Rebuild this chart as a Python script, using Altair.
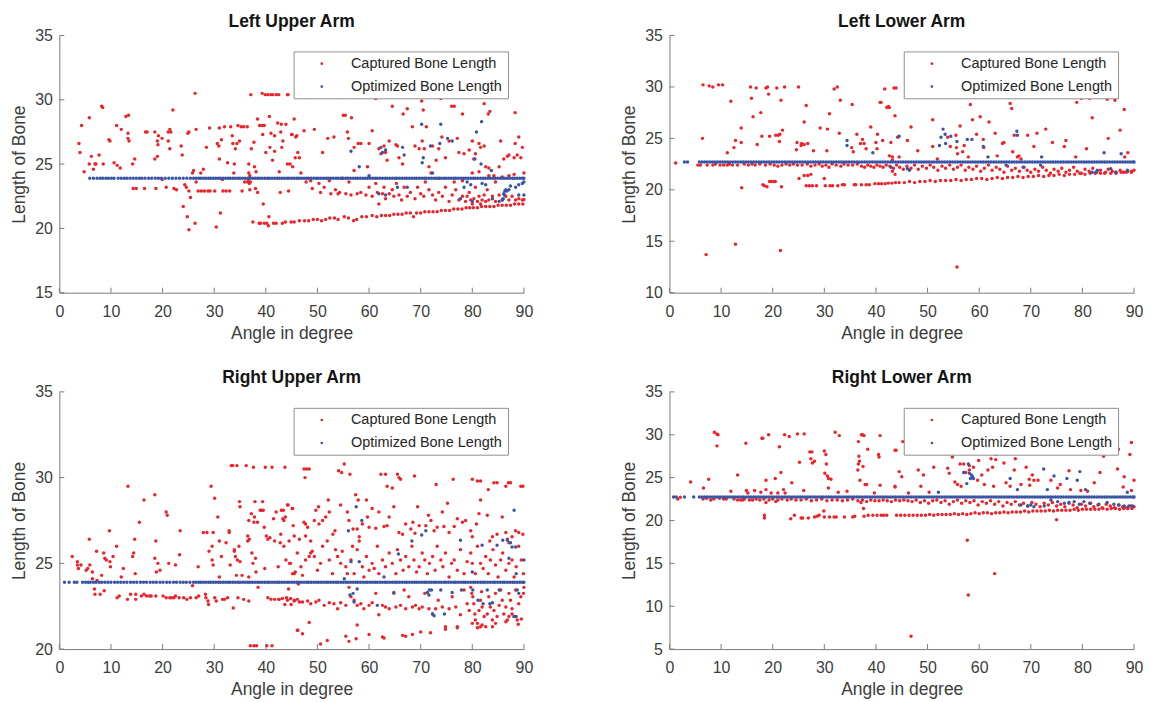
import altair as alt
import pandas as pd

RED = "#ee2229"
BLUE = "#3a55a5"
AXIS_COLOR = "#7a7a7a"
TEXT_COLOR = "#3c3c3c"
FONT = "Liberation Sans"
SERIES = ["Captured Bone Length", "Optimized Bone Length"]
X_TICKS = [0, 10, 20, 30, 40, 50, 60, 70, 80, 90]
W, H = 466, 258

# ---------------- Left Upper Arm ----------------
LUA_RED = [
    (3.8,26.6),(4.0,25.9),(4.3,28.0),(4.8,24.4),(5.8,28.6),(5.8,25.0),(6.2,25.6),(6.6,24.6),(6.9,25.0),(7.1,25.0),
    (7.7,25.7),(8.2,29.5),(8.4,29.4),(8.5,25.0),(9.6,26.9),(9.8,26.8),(10.6,25.1),(11.1,28.0),(11.2,24.9),(11.8,24.7),
    (12.0,27.7),(12.9,28.7),(13.4,28.8),(13.3,27.0),(13.5,26.8),(13.3,27.4),(14.3,23.1),(14.9,23.1),(14.2,25.0),(14.6,25.4),
    (16.5,23.1),(16.7,27.5),(17.0,27.5),(18.7,23.1),(18.5,27.5),(18.5,25.4),(19.0,25.6),(19.0,26.8),(19.1,26.5),(19.2,27.2),
    (19.9,27.0),(19.9,23.8),(20.7,23.2),(21.1,27.5),(21.4,27.7),(21.6,27.5),(21.4,26.2),(21.1,26.8),(22.0,29.2),(22.2,23.1),
    (22.7,23.0),(23.6,26.4),(23.8,25.7),(24.0,21.7),(24.3,23.4),(24.6,23.2),(24.8,20.9),(25.1,19.9),(24.9,27.4),(25.1,27.5),
    (25.4,22.4),(25.1,22.9),(25.8,24.3),(26.0,24.5),(26.3,30.5),(26.3,20.4),(26.5,27.7),(26.5,23.6),(26.9,22.9),(27.5,22.9),
    (27.4,24.3),(27.9,24.6),(28.1,22.9),(28.5,26.3),(28.8,22.9),(29.1,27.8),(29.2,22.9),(30.1,22.9),(30.4,20.1),(30.6,26.6),
    (30.9,26.4),(31.0,25.4),(31.2,21.2),(31.0,27.8),(31.4,26.9),(31.6,23.8),(31.7,22.9),(32.0,27.9),(32.3,22.9),(32.6,25.1),
    (33.0,22.9),(33.2,27.9),(33.5,27.2),(33.6,26.6),(33.8,24.3),(33.9,25.0),(34.1,26.2),(34.4,26.6),(34.6,28.0),(34.9,26.8),
    (35.2,27.9),(35.4,22.9),(35.7,27.9),(35.9,23.6),(36.4,27.9),(36.7,24.3),(36.5,23.6),(36.7,25.0),(36.8,23.5),(36.9,23.0),
    (36.6,23.8),(37.0,23.6),(36.9,24.1),(37.1,30.4),(37.2,26.2),(37.5,20.5),(37.7,26.7),(37.8,24.8),(38.0,23.1),(38.1,24.4),
    (38.4,28.5),(38.4,22.8),(38.7,20.4),(38.8,28.0),(39.0,20.4),(39.3,28.0),(39.3,30.5),(39.4,27.3),(39.5,21.9),(39.7,28.0),
    (39.7,20.4),(39.9,30.4),(40.0,25.9),(40.2,20.4),(40.4,30.4),(40.5,20.2),(40.7,28.7),(40.6,20.9),(40.8,26.3),(41.0,27.4),
    (41.0,30.4),(41.3,30.4),(41.3,25.3),(41.5,20.4),(41.7,27.2),(41.7,26.0),(42.0,20.4),(42.0,30.4),(42.3,28.2),(42.5,30.4),
    (42.6,24.4),(42.8,22.8),(43.0,28.1),(43.1,26.3),(43.2,20.4),(43.3,26.8),(43.8,20.5),(44.3,30.4),(44.4,22.9),(44.7,25.0),
    (44.9,20.5),(45.1,27.3),(45.2,24.8),(45.5,28.5),(45.5,20.5),(45.7,25.5),(46.0,27.2),(46.2,25.9),
    (44.2,30.4),(48.4,30.2),(54.5,30.2),(58.0,30.2),(58.3,30.2),(61.3,30.1),(64.5,29.5),(66.6,28.9),(67.4,29.3),(70.2,29.9),
    (70.5,29.2),(73.9,30.1),(76.0,29.5),(76.5,29.5),(78.1,28.9),(82.3,29.7),(83.1,28.9),(83.4,29.1),(88.3,29.0),(43.9,28.1),
    (42.9,27.5),(45.0,27.3),(45.8,27.1),(47.4,27.6),(49.4,27.7),(51.0,25.9),(52.0,27.0),(53.2,27.1),(55.0,28.8),(55.4,28.8),
    (55.8,27.5),(56.0,27.0),(56.6,28.6),(57.1,26.3),(57.9,26.6),(58.4,26.6),(60.0,26.6),(60.6,27.6),(61.9,26.2),(62.3,25.8),
    (62.9,26.4),(63.2,25.9),(63.5,25.3),(63.9,26.8),(65.2,26.5),(65.5,26.4),(65.8,25.5),(66.5,25.0),(68.4,27.9),(68.9,26.4),
    (69.7,26.2),(70.3,26.8),(70.7,26.2),(71.1,27.9),(71.6,24.8),(72.0,24.3),(72.3,26.4),(73.0,25.3),(73.5,26.2),(74.1,27.1),
    (74.8,25.5),(75.5,26.8),(77.1,27.0),(77.4,25.9),(78.4,25.8),(79.4,26.1),(80.0,26.8),(80.3,25.4),(80.6,25.8),(81.3,26.6),
    (81.6,26.3),(82.3,26.4),(82.6,24.8),(83.2,24.7),(84.2,24.1),(85.2,24.8),(85.5,26.8),(86.1,25.4),(86.8,25.6),(87.1,25.7),
    (88.1,25.5),(88.3,26.6),(88.7,25.7),(89.0,27.1),(89.4,25.5),(89.7,26.3),(44.2,25.0),(46.5,25.5),(46.8,24.3),(47.8,23.6),
    (48.7,23.7),(49.0,23.1),(50.3,23.5),(50.6,22.8),(51.3,23.2),(52.3,23.7),(52.6,22.7),(53.5,23.0),(54.0,22.7),(54.3,22.8),
    (54.8,23.9),(55.5,22.7),(56.1,23.6),(56.5,22.6),(57.1,24.5),(57.7,22.7),(58.4,22.8),(59.4,22.6),(59.7,24.8),(60.0,23.2),
    (60.6,22.5),(61.3,23.5),(61.6,22.8),(61.9,21.9),(62.6,22.7),(62.9,23.2),(63.2,22.3),(63.9,22.7),(64.5,23.0),(64.8,22.5),
    (65.3,23.5),(65.8,22.6),(66.3,22.2),(66.8,23.2),(67.4,22.5),(68.0,22.8),(68.9,22.3),(69.4,23.2),(70.0,22.7),(70.6,22.5),
    (71.6,23.0),(72.3,22.6),(72.9,22.2),(73.5,22.8),(74.2,22.5),(74.8,23.2),(75.5,22.1),(76.1,22.6),(76.8,23.0),(77.4,22.2),
    (78.1,22.5),(78.7,22.1),(79.0,22.5),(79.4,22.8),(79.7,22.2),(80.0,21.9),(80.3,22.3),(80.6,23.2),(81.0,22.1),(81.3,22.5),
    (81.6,21.9),(81.9,22.2),(82.3,22.6),(82.6,22.1),(82.9,23.0),(83.2,22.2),(83.9,22.5),(84.5,22.1),(85.2,22.6),(85.8,22.2),
    (86.5,22.5),(87.1,22.2),(87.7,22.5),(88.4,22.2),(89.0,22.3),(89.7,22.2),(90.0,22.25),(87.1,24.1),(88.1,24.2),(90.0,24.3),
    (85.8,24.0),(84.5,23.6),(80.0,24.3),(81.3,24.4),(83.2,24.1),(78.1,23.7),(76.5,23.6),(73.5,23.9),(70.9,23.6),
    (46.5,20.6),(47.5,20.6),(48.3,20.6),(49.2,20.7),(50.0,20.7),(50.8,20.6),(51.6,20.7),(52.4,20.8),(53.3,20.8),(54.0,20.7),
    (55.2,20.9),(56.0,20.8),(57.0,20.6),(57.6,20.7),(58.6,20.9),(59.5,20.9),(60.6,21.0),(61.5,20.9),(62.4,21.0),(63.2,21.0),
    (64.0,21.0),(64.8,21.1),(65.6,21.1),(66.4,21.1),(67.2,21.2),(68.0,21.2),(68.6,20.9),(69.2,21.2),(70.0,21.2),(70.8,21.3),
    (71.6,21.3),(72.4,21.3),(73.2,21.3),(74.0,21.4),(74.8,21.4),(75.6,21.4),(76.4,21.5),(77.2,21.5),(78.0,21.5),(78.8,21.6),
    (79.5,21.6),(80.2,21.6),(81.0,21.6),(81.8,21.7),(82.6,21.7),(83.4,21.7),(84.2,21.7),(85.0,21.8),(85.8,21.8),(86.6,21.8),
    (87.4,21.8),(88.2,21.9),(89.0,21.9),(89.8,21.9),
]
LUA_BLUE = [
    (56.5,26.0),(58.1,24.8),(60.0,24.1),(62.3,26.3),(62.6,25.9),(63.2,26.1),(61.9,22.7),(63.2,22.6),(65.5,23.2),(66.5,26.3),
    (66.8,25.7),(67.4,23.2),(70.2,28.1),(70.5,25.5),(70.3,25.1),(71.9,26.4),(72.3,24.3),(73.9,28.1),(73.7,26.6),(75.2,27.0),
    (76.1,26.8),(78.4,23.2),(77.7,22.3),(79.0,23.6),(79.7,23.4),(80.8,27.5),(80.5,25.4),(81.8,28.3),(81.7,25.0),(80.0,22.1),
    (81.9,23.5),(82.6,23.4),(83.7,24.5),(83.9,22.3),(85.2,22.1),(85.8,22.2),(86.0,22.3),(86.1,22.7),(86.2,22.6),(86.3,22.9),
    (86.5,23.0),(86.7,22.9),(87.1,23.0),(87.4,23.3),(88.4,23.2),(89.0,23.4),(89.7,23.5),(90.0,23.6),(89.0,22.6),(90.0,22.6),
]
LUA_BAND_DOTS = [5.9,6.6,7.3,7.9,8.4,9.0,9.5,10.1,10.6,11.4,12.0,12.6,13.1,13.7,14.3,14.9,15.5,16.0,16.6,17.3,
                 17.9,18.6,19.2,19.8,20.5,21.2,21.9,22.6,23.3,24.0,24.7,25.4]
LUA_BAND_Y = 23.9

# ---------------- Right Upper Arm ----------------
RUA_RED = [
    (2.5,25.4),(3.5,25.1),(3.5,24.9),(3.7,24.7),(4.2,24.9),(5.2,24.6),(5.5,24.7),(5.8,26.4),(5.9,24.9),(6.4,24.5),
    (6.4,24.1),(6.8,23.5),(6.9,23.2),(7.2,25.7),(7.3,24.0),(7.9,23.2),(8.2,24.3),(8.6,25.6),(8.7,23.4),(8.8,25.3),
    (9.1,25.2),(9.7,26.9),(9.8,25.1),(9.9,24.8),(10.4,25.4),(11.1,26.0),(11.2,23.0),(11.6,23.1),(12.0,24.2),(12.4,24.7),
    (13.3,29.5),(13.2,22.9),(13.8,23.2),(14.2,25.4),(14.4,25.6),(14.6,26.4),(14.7,24.4),(14.8,23.2),(14.8,22.9),(15.5,27.4),
    (15.9,23.1),(16.4,28.7),(16.4,23.2),(16.9,23.1),(17.5,23.1),(17.8,23.1),(18.5,29.0),(18.7,26.3),(18.5,25.3),(18.8,24.5),
    (19.1,25.0),(19.5,24.6),(18.7,23.1),(20.1,23.1),(20.7,28.0),(20.9,27.8),(20.7,23.0),(21.2,25.0),(21.4,23.0),(21.7,23.0),
    (22.2,23.0),(22.5,23.1),(22.5,24.9),(23.2,23.0),(23.4,26.9),(23.3,25.5),(24.1,23.0),(24.7,22.9),(25.4,23.0),(25.8,23.7),
    (26.5,23.0),(26.9,24.8),(27.0,23.1),(27.9,26.8),(28.3,23.2),(28.4,23.0),(28.6,26.8),(28.8,22.8),(28.9,22.6),(29.0,25.7),
    (29.4,29.5),(29.6,26.0),(29.6,25.2),(29.8,26.8),(29.8,24.9),(30.1,28.8),(30.1,23.0),(30.4,22.8),(30.7,27.7),(31.0,26.3),
    (31.0,24.2),(31.4,25.4),(31.6,22.9),(32.0,22.9),(32.3,26.2),(32.6,23.0),(32.9,26.8),(32.9,26.9),(33.1,24.9),(33.3,30.7),
    (33.6,30.7),(33.7,22.4),(33.9,25.7),(33.9,25.8),(34.1,25.4),(34.3,24.3),(34.4,30.7),(34.5,25.2),(34.6,23.0),(34.8,26.0),
    (34.9,28.6),(35.0,28.3),(35.0,25.1),(35.4,24.3),(35.7,22.9),(36.2,30.7),(36.5,26.6),(36.5,26.3),(36.7,27.5),(36.7,24.2),
    (36.7,22.8),(36.8,26.4),(37.0,20.2),(37.2,27.9),(37.3,25.6),(37.5,25.0),(37.6,30.6),(37.7,20.2),(37.7,27.4),(37.8,27.7),
    (37.9,28.6),(38.0,25.3),(38.1,24.5),(38.2,20.2),(38.4,27.4),(38.5,23.6),(38.9,28.1),(39.2,28.1),(39.4,28.6),(39.5,28.1),
    (39.7,27.1),(39.8,24.7),(40.1,26.6),(39.9,30.6),(40.2,20.2),(40.4,26.4),(40.4,23.0),(40.8,26.5),(41.0,22.9),(41.2,30.6),
    (41.2,20.2),(41.5,27.6),(41.7,22.9),(41.7,26.3),(42.0,28.0),(42.4,24.8),(42.5,22.9),(42.8,26.2),(42.9,26.7),(43.0,28.1),
    (43.3,27.6),(43.4,28.1),(43.7,30.6),(43.7,22.6),(43.8,27.7),(44.0,23.0),(44.3,28.4),(44.4,23.5),(44.6,25.0),(44.9,22.6),
    (45.1,28.2),(45.2,24.4),(45.3,27.2),(45.5,22.8),(45.7,24.5),(46.2,21.1),(46.3,23.8),
    (47.4,30.5),(47.6,30.0),(47.9,30.5),(48.4,30.5),(54.1,30.4),(54.7,30.3),(55.2,30.8),(56.3,30.2),(62.3,30.2),(63.2,30.2),
    (63.5,29.5),(64.5,29.4),(65.5,30.2),(65.8,30.0),(66.1,29.9),(68.8,30.1),(73.0,29.6),(76.3,29.9),(80.0,29.9),(81.0,29.8),
    (81.6,29.8),(83.1,29.3),(84.2,29.7),(84.8,29.7),(86.5,29.5),(87.0,29.7),(87.4,29.7),(89.4,29.5),(89.8,29.5),
    (44.2,28.4),(45.2,28.2),(43.5,27.5),(44.5,26.3),(45.5,26.6),(46.5,26.4),(47.4,27.4),(47.7,27.3),(48.1,27.1),(47.7,26.6),
    (48.7,26.3),(49.4,27.5),(49.7,28.1),(50.2,28.3),(50.3,27.3),(51.0,27.5),(51.6,27.7),(52.1,28.7),(52.3,28.0),(53.0,26.7),
    (53.4,26.9),(54.5,28.4),(55.8,28.0),(56.1,27.5),(56.9,27.0),(57.4,29.0),(57.9,28.7),(57.7,27.0),(58.1,26.55),(58.7,27.3),
    (59.5,28.7),(59.7,27.7),(60.0,27.1),(60.6,28.2),(61.3,27.05),(61.9,28.0),(62.9,27.15),(63.5,27.2),(63.9,27.7),(64.8,28.3),
    (65.8,26.8),(66.5,26.7),(67.1,27.3),(68.1,27.0),(68.5,27.4),(68.9,26.75),(69.4,28.3),(69.7,27.2),(71.0,27.2),(71.5,27.8),
    (72.0,27.5),(72.6,26.9),(73.2,27.1),(74.2,28.0),(74.5,27.15),(75.2,28.5),(75.5,26.8),(76.5,27.15),(77.1,27.6),(78.1,27.4),
    (78.7,27.5),(79.7,26.9),(80.0,26.55),(80.8,27.3),(81.6,28.7),(81.3,27.9),(82.9,27.8),(83.4,26.3),(83.9,26.55),(84.8,26.7),
    (85.8,27.7),(86.5,26.8),(86.8,26.4),(87.1,26.2),(87.7,26.55),(88.4,26.9),(89.0,26.8),(89.8,26.7),
    (43.5,26.0),(43.9,25.2),(44.8,25.0),(45.5,24.4),(46.1,25.6),(46.8,24.8),(47.1,24.3),(47.7,25.2),(48.4,25.4),(48.7,25.6),
    (49.0,25.7),(49.4,25.4),(50.0,24.6),(50.6,25.0),(51.0,26.0),(51.9,26.3),(52.3,25.2),(52.9,24.4),(53.5,25.8),(53.9,25.4),
    (54.5,25.0),(54.8,25.7),(55.5,24.8),(55.8,24.4),(56.5,25.2),(56.8,26.0),(57.1,24.4),(57.7,25.8),(58.1,26.3),(58.7,24.8),
    (59.0,24.2),(59.5,25.4),(60.0,24.6),(60.6,25.0),(61.0,24.7),(61.6,26.0),(61.9,24.4),(62.6,25.2),(63.2,24.8),(63.9,25.6),
    (64.5,25.0),(65.2,24.4),(65.5,25.8),(66.1,25.2),(66.6,24.6),(67.1,25.4),(67.7,24.8),(68.3,26.0),(68.7,25.2),(69.2,24.5),
    (69.7,24.8),(70.3,25.6),(70.8,25.2),(71.3,24.4),(71.7,25.0),(72.3,25.4),(72.8,24.6),(73.2,26.0),(73.9,25.2),(74.3,24.8),
    (74.8,25.6),(75.5,24.2),(76.0,25.0),(76.5,25.2),(77.1,24.6),(77.7,25.8),(78.4,24.4),(79.0,25.1),(79.7,25.6),(80.0,25.0),
    (80.6,24.4),(81.0,26.0),(81.6,25.0),(82.1,24.7),(82.6,25.4),(83.1,24.4),(83.5,25.2),(84.0,25.8),(84.5,24.9),(85.0,24.2),
    (85.5,25.2),(85.9,25.6),(86.5,24.6),(87.1,25.0),(87.7,25.2),(88.1,24.2),(88.5,24.8),(89.0,26.0),(89.5,25.2),(89.9,24.4),
    (42.6,22.9),(43.2,22.95),(44.2,22.85),(44.8,22.95),(45.5,22.85),(46.1,22.9),(46.5,22.75),(47.1,22.75),(48.1,22.8),(48.7,22.65),
    (49.7,22.75),(50.3,22.85),(51.3,22.55),(52.3,22.7),(53.2,22.65),(53.9,22.35),(54.5,22.7),(55.5,22.55),(56.1,23.6),(56.5,23.05),
    (57.1,22.85),(57.7,22.55),(58.4,22.65),(59.0,22.35),(60.0,22.55),(60.6,22.7),(61.3,23.25),(61.9,22.0),(62.6,22.55),(63.2,22.45),
    (63.9,22.35),(64.8,23.25),(65.2,22.45),(66.1,22.55),(66.8,23.45),(67.1,22.35),(67.7,23.05),(68.4,22.45),(69.0,22.55),(69.7,22.35),
    (70.3,22.45),(70.8,23.25),(71.6,22.35),(72.3,22.05),(72.9,22.35),(73.4,22.85),(74.2,22.45),(74.8,21.3),(75.5,22.35),(76.1,23.05),
    (76.8,22.45),(77.1,21.3),(77.7,22.0),(78.4,23.45),(79.0,22.65),(79.4,22.25),(79.7,23.6),(79.9,23.25),(80.1,23.05),(80.3,22.65),
    (80.5,22.05),(80.6,21.7),(81.0,21.5),(81.3,22.25),(81.6,22.85),(81.8,23.35),(81.9,22.45),(82.3,21.9),(82.6,21.3),(82.9,22.05),
    (83.2,23.05),(83.5,22.45),(83.9,21.7),(84.2,22.25),(84.5,23.25),(84.8,21.9),(85.2,22.55),(85.5,23.45),(85.8,22.85),(86.1,22.05),
    (86.5,22.45),(86.8,21.7),(87.1,23.25),(87.4,22.85),(87.7,22.35),(88.1,21.9),(88.4,23.45),(88.7,21.7),(89.0,22.65),(89.4,23.05),
    (89.9,23.25),(90.0,23.6),
    (46.1,21.1),(47.1,20.9),(48.4,21.55),(50.6,20.3),(51.9,20.5),(55.5,20.75),(56.1,20.45),(57.5,20.6),(57.7,21.4),(60.0,20.85),
    (62.6,20.7),(62.9,20.65),(66.5,20.8),(67.1,20.75),(68.4,20.85),(70.0,21.0),(71.9,20.95),(74.8,21.15),(77.1,21.25),(80.0,21.5),
    (81.0,21.25),(81.6,21.3),(81.9,21.4),(83.9,21.3),(84.5,21.5),(86.5,21.6),(87.1,21.9),(87.7,22.05),(88.9,21.45),(89.5,21.75),
]
RUA_BLUE = [
    (56.0,26.9),(57.5,28.3),(58.6,27.5),(56.5,25.1),(58.1,25.1),(55.2,24.1),(56.3,23.15),(56.9,23.25),(57.7,23.5),(57.1,22.75),
    (61.6,22.55),(62.9,24.2),(64.8,23.3),(65.7,25.55),(68.3,26.3),(70.2,26.65),(71.0,26.9),(71.3,23.3),(71.7,23.45),(72.1,23.45),
    (71.6,23.15),(72.3,22.05),(72.6,21.95),(73.9,23.45),(74.6,22.05),(76.1,23.3),(77.7,26.35),(77.9,23.45),(80.0,24.5),(80.1,23.45),
    (81.1,22.85),(81.9,26.05),(82.1,22.65),(82.9,23.45),(83.4,22.65),(83.9,22.7),(84.8,26.05),(85.2,23.45),(85.9,26.35),(86.8,26.35),
    (87.1,25.3),(87.4,26.2),(87.7,25.95),(88.1,28.1),(88.4,25.95),(88.5,24.4),(88.7,23.45),(89.0,23.25),(88.1,21.9),(88.5,21.9),
    (90.0,25.2),
]
RUA_BAND_DOTS = [1.0,1.9,2.9,3.4,4.5,5.1,5.6,6.0,6.6,7.1,7.7,8.2,8.8,9.4,10.0,10.7,11.3,11.9,12.5,13.1,13.8,14.4,15.0,
                 15.7,16.3,16.9,17.6,18.2,18.8,19.5,20.1,20.8,21.4,22.1,22.7,23.4,24.0,24.6,25.3]
RUA_BAND_Y = 23.9

UPPER_BAND_SOLID = [
    26.0,26.5,27.0,27.4,27.9,28.4,28.9,29.3,29.8,30.3,30.8,31.2,31.7,32.2,32.7,33.1,33.6,34.1,34.6,35.0,35.5,36.0,36.5,36.9,
    37.4,37.9,38.4,38.8,39.3,39.8,40.3,40.7,41.2,41.7,42.2,42.6,43.1,43.6,44.1,44.5,45.0,45.5,46.0,46.4,46.9,47.4,47.9,48.3,
    48.8,49.3,49.8,50.2,50.7,51.2,51.7,52.1,52.6,53.1,53.6,54.0,54.5,55.0,55.5,55.9,56.4,56.9,57.4,57.8,58.3,58.8,59.3,59.7,
    60.2,60.7,61.2,61.6,62.1,62.6,63.1,63.5,64.0,64.5,65.0,65.4,65.9,66.4,66.9,67.3,67.8,68.3,68.8,69.2,69.7,70.2,70.7,71.1,
    71.6,72.1,72.6,73.0,73.5,74.0,74.5,74.9,75.4,75.9,76.4,76.8,77.3,77.8,78.3,78.7,79.2,79.7,80.2,80.6,81.1,81.6,82.1,82.5,
    83.0,83.5,84.0,84.4,84.9,85.4,85.9,86.3,86.8,87.3,87.8,88.2,88.7,89.2,89.7,90.0,
]

# ---------------- Left Lower Arm ----------------
LLA_RED = [
    (1.2,22.6),(5.5,22.4),(6.0,22.4),(6.5,30.2),(6.4,25.0),(7.1,13.7),(7.3,22.4),(7.7,30.1),(8.4,30.0),(8.4,22.4),
    (9.5,30.2),(10.3,30.2),(10.5,22.4),(11.2,23.6),(11.2,22.4),(11.9,28.6),(12.5,24.1),(12.8,24.8),(12.8,14.7),(13.2,22.4),
    (13.9,26.0),(13.9,24.6),(14.0,20.2),(14.5,22.5),(15.7,30.0),(15.9,28.9),(16.2,27.1),(16.8,29.9),(17.0,24.4),(17.7,27.5),
    (17.9,25.2),(18.1,20.5),(18.4,20.4),(18.7,29.9),(19.0,30.0),(18.9,20.3),(19.2,29.3),(19.4,25.2),(19.4,20.8),(19.7,20.8),
    (20.2,20.8),(20.5,20.8),(20.6,25.3),(20.8,29.9),(21.1,25.3),(21.3,24.7),(21.4,25.4),(21.5,14.1),(21.6,28.7),(21.7,20.3),
    (21.9,25.8),(22.3,30.0),(24.6,23.9),(24.7,24.6),(25.0,30.0),(25.1,21.1),(25.5,24.3),(25.6,24.5),(26.1,26.6),(26.1,21.4),
    (26.1,24.4),(26.5,28.2),(26.5,20.4),(26.8,24.5),(26.8,21.4),(27.1,20.4),(27.4,21.5),(27.7,20.4),(27.9,23.8),(28.5,20.4),
    (29.2,26.0),(30.0,21.1),(30.2,20.4),(30.5,23.8),(30.6,25.9),(31.0,27.4),(31.1,20.4),(31.6,20.4),(31.9,29.8),(32.5,30.0),
    (32.6,20.4),(32.9,25.5),(33.1,28.7),(33.5,20.5),(33.9,20.5),(35.3,24.1),(35.4,28.3),(35.6,23.7),(35.8,20.5),(36.1,20.5),
    (36.3,25.4),(37.0,24.5),(37.4,24.9),(37.2,20.5),(37.7,24.5),(38.1,24.0),(38.1,20.5),(38.7,20.5),(39.0,26.1),(40.0,24.6),
    (40.2,24.0),(40.3,25.4),(40.8,28.5),(41.3,24.8),(41.7,29.8),(42.1,28.0),(42.4,28.1),(42.9,24.6),(43.5,29.9),(43.7,27.2),
    (43.2,21.8),(43.7,21.5),(42.6,23.3),(43.2,23.2),
    (39.8,20.6),(40.5,20.6),(41.1,20.6),(41.8,20.6),(42.4,20.65),(43.1,20.65),(43.8,20.7),
    (43.9,29.9),(41.0,28.5),(42.6,28.0),(44.2,25.1),(44.5,23.2),(43.2,22.9),(46.8,26.1),(46.1,24.8),(48.1,23.8),(51.0,26.8),
    (51.0,24.2),(51.9,23.0),(53.9,25.1),(54.4,24.2),(55.5,25.3),(55.6,24.1),(55.8,23.5),(55.7,12.5),(56.3,26.2),(56.8,23.7),
    (57.1,24.3),(57.9,23.2),(58.3,28.3),(58.7,26.8),(59.5,25.4),(60.2,27.1),(60.8,24.9),(60.9,24.1),(61.9,26.6),(63.1,25.5),
    (63.5,23.3),(64.5,24.5),(64.8,24.6),(66.0,28.4),(66.3,27.9),(66.5,23.7),(66.8,25.3),(67.4,23.2),(67.7,23.3),(68.1,23.0),
    (69.4,25.3),(70.6,24.2),(71.2,25.5),(72.9,25.9),(74.2,24.6),(76.5,24.2),(76.8,24.8),(78.7,23.2),(78.9,28.5),(79.8,28.9),
    (81.4,28.9),(80.8,24.0),(81.9,27.0),(84.8,28.8),(85.0,25.0),(86.3,28.7),(87.3,25.8),(88.1,27.8),(88.2,23.2),(88.8,23.6),
    (8.9,22.5),(9.8,22.4),(11.6,22.5),(12.2,22.4),(15.3,22.4),(16.0,22.5),(16.6,22.4),(17.5,22.5),(18.6,22.4),(19.5,22.5),
    (20.3,22.4),(21.0,22.3),(21.8,22.4),(22.6,22.5),(23.3,22.4),(24.0,22.5),(24.8,22.4),(25.7,22.4),(26.7,22.5),(27.4,22.3),
    (28.2,22.4),(29.0,22.5),(29.6,22.3),(30.3,22.4),(30.9,22.2),(31.5,22.5),(32.3,22.4),(33.2,22.3),(33.8,22.5),(34.6,22.4),
    (35.5,22.4),(36.4,22.5),(37.2,22.3),(37.8,22.2),(38.4,22.4),(39.0,22.3),(39.6,22.2),(40.2,22.4),(40.8,22.3),(41.4,22.2),
    (42.0,22.4),(42.7,22.3),(43.4,22.1),(44.0,22.4),(44.6,22.2),(45.3,22.0),
    (46.0,22.3),(46.8,22.1),(47.5,22.4),(48.2,22.0),(49.0,22.3),(49.8,22.1),(50.5,22.4),(51.2,22.2),(52.0,21.9),(52.8,22.3),
    (53.5,22.1),(54.3,22.4),(55.0,22.0),(55.8,22.2),(56.5,22.4),(57.3,21.9),(58.0,22.2),(58.8,22.0),(59.5,22.3),(60.3,21.8),
    (61.0,22.1),(61.8,22.4),(62.5,21.9),(63.3,22.2),(64.0,22.0),(64.8,21.7),(65.5,22.3),(66.3,21.9),(67.0,22.1),(67.8,21.8),
    (68.5,22.2),(69.3,21.9),(70.0,21.7),(70.8,22.0),(71.5,21.8),(72.3,22.2),(73.0,21.9),(73.8,21.6),(74.5,22.0),(75.3,21.8),
    (76.0,22.1),(76.8,21.7),(77.5,21.9),(78.3,22.2),(79.0,21.8),(79.8,21.6),(80.5,22.0),(81.3,21.8),(82.0,22.1),(82.8,21.7),
    (83.5,21.9),(84.3,21.6),(85.0,22.0),(85.8,21.8),(86.5,21.6),(87.3,21.9),(88.0,21.7),(88.8,21.8),(89.5,21.7),(90.0,21.9),
    (44.5,20.7),(45.5,20.7),(46.5,20.8),(47.5,20.7),(48.5,20.8),(49.5,20.8),(50.5,20.9),(51.5,20.8),(52.5,20.9),(53.5,20.9),
    (54.5,20.9),(55.5,21.0),(56.5,20.9),(57.5,21.0),(58.5,21.0),(59.5,21.1),(60.5,21.1),(61.5,21.0),(62.5,21.1),(63.5,21.2),
    (64.5,21.1),(65.5,21.2),(66.5,21.2),(67.5,21.3),(68.5,21.2),(69.5,21.3),(70.5,21.3),(71.5,21.4),(72.5,21.3),(73.5,21.4),
    (74.5,21.4),(75.5,21.5),(76.5,21.4),(77.5,21.5),(78.5,21.5),(79.5,21.6),(80.5,21.5),(81.5,21.6),(82.5,21.6),(83.5,21.6),
    (84.5,21.7),(85.5,21.6),(86.5,21.7),(87.5,21.7),(88.5,21.7),(89.5,21.8),
]
LLA_BLUE = [
    (34.4,24.8),(34.4,24.3),(39.4,23.6),(42.9,22.2),(44.5,25.2),(52.3,24.3),(52.6,25.1),(53.0,25.9),(53.4,25.4),(53.5,24.5),
    (54.5,25.2),(55.7,24.7),(57.7,24.9),(58.6,24.9),(60.8,24.2),(61.7,23.2),(67.3,25.7),(67.4,25.3),(72.1,23.2),(84.2,23.6),
    (87.5,23.5),(46.1,22.05),(46.5,21.9),(65.2,22.4),(68.7,22.2),(71.9,22.4),(81.9,21.7),(82.6,21.7),(82.9,21.9),(85.5,22.05),
    (86.5,21.7),(88.7,21.9),
]
LLA_BAND_DOTS = [2.9, 3.5]
LLA_BAND_Y = 22.7

# ---------------- Right Lower Arm ----------------
RLA_RED = [
    (1.6,22.5),(2.1,22.7),(4.1,24.5),(6.6,23.8),(7.6,24.8),(8.6,22.5),(8.7,30.3),(9.2,30.1),(9.4,30.0),(9.2,28.7),
    (9.7,22.6),(11.0,22.5),(11.9,23.4),(13.2,25.3),(13.2,22.4),(14.2,22.4),(14.8,29.0),(14.9,23.5),(15.2,23.2),(16.1,22.4),
    (16.5,23.5),(17.7,23.3),(17.9,29.6),(18.1,29.6),(18.4,20.3),(18.4,20.6),(18.7,23.6),(18.7,24.7),(18.7,22.1),(19.2,30.0),
    (19.7,23.2),(20.5,24.9),(20.6,22.2),(21.0,23.2),(21.3,28.6),(21.6,25.6),(22.3,30.0),(22.1,23.6),(22.4,23.2),(23.2,29.8),
    (23.5,20.2),(23.7,24.4),(24.2,20.6),(24.8,30.1),(25.2,26.8),(25.5,20.3),(25.8,20.3),(26.0,23.5),(26.1,30.1),(26.9,20.3),
    (27.2,28.0),(27.4,27.2),(27.6,28.0),(27.7,26.7),(28.1,26.9),(28.1,20.4),(28.6,20.5),(29.0,20.6),(29.9,21.1),(30.0,28.1),
    (30.0,20.4),(30.3,27.7),(30.1,25.5),(30.4,26.6),(30.6,25.2),(30.8,24.9),(30.8,23.8),(31.0,20.4),(31.3,24.8),(31.9,20.4),
    (32.1,30.3),(32.3,20.4),(32.9,29.9),(32.7,23.3),(33.9,20.4),(34.4,23.4),(35.5,20.4),(35.9,20.5),(36.5,25.9),(36.6,29.2),
    (36.6,26.6),(36.7,27.5),(36.8,26.9),(36.9,24.7),(37.1,22.1),(37.2,30.0),(37.4,30.0),(37.5,26.3),(37.6,21.4),(37.7,29.9),
    (37.7,20.5),(37.9,24.2),(38.2,24.2),(38.4,28.3),(38.5,20.6),(39.4,20.6),(39.7,23.2),(40.2,20.6),(40.5,27.7),(40.6,27.4),
    (40.8,24.1),(40.8,29.9),(41.0,20.6),(41.5,20.6),(42.1,20.6),(43.7,28.2),(43.7,24.0),(44.0,20.6),
    (43.9,28.2),(44.5,25.7),(45.0,25.1),(45.2,29.2),(46.3,29.9),(43.7,23.9),(46.8,6.5),(46.3,23.2),(48.2,25.9),(48.7,24.0),
    (49.2,25.3),(50.3,23.3),(51.2,26.2),(53.9,26.1),(54.2,25.5),(54.8,27.4),(55.3,24.5),(55.8,24.2),(56.3,26.6),(56.5,24.0),
    (57.0,26.6),(57.4,25.6),(57.7,17.7),(57.9,11.3),(58.1,26.4),(58.1,25.9),(58.9,26.2),(59.7,24.7),(59.9,27.0),(60.5,25.3),
    (61.0,24.2),(61.7,25.9),(62.3,27.2),(62.6,26.2),(62.8,24.0),(63.0,13.8),(63.2,27.1),(63.3,27.7),(64.8,26.7),(65.2,24.4),
    (66.0,24.0),(66.8,25.9),(67.0,27.2),(68.1,24.2),(69.1,26.2),(69.7,24.8),(69.8,24.1),(70.3,25.3),(70.6,24.7),(71.4,24.7),
    (73.9,24.7),(75.2,23.8),(75.7,24.2),(77.4,25.8),(77.7,23.6),(79.7,23.5),(81.0,23.4),(82.3,24.4),(83.4,25.6),(84.1,27.5),
    (85.3,28.3),(86.8,26.0),(87.0,28.3),(87.9,23.9),(88.1,25.1),(89.2,27.7),(89.5,29.1),(90.0,24.7),(89.5,23.5),(78.9,27.9),
    (75.0,20.1),
    (6.5,22.5),(7.2,22.6),(8.0,22.4),(10.5,22.5),(12.5,22.5),(13.8,22.4),(14.5,22.5),(15.5,22.4),(16.8,22.5),(17.5,22.4),
    (18.3,22.5),(19.3,22.4),(20.0,22.5),(21.0,22.4),(21.8,22.5),(22.8,22.4),(23.6,22.5),(24.5,22.4),(25.5,22.4),(26.5,22.5),
    (27.5,22.3),(28.5,22.4),(29.5,22.5),(30.5,22.3),(31.5,22.4),(32.5,22.4),(33.5,22.3),(34.5,22.4),(35.5,22.5),(36.5,22.3),
    (37.4,22.4),(38.2,22.2),(39.0,22.4),(39.8,22.3),(40.6,22.3),(41.4,22.4),(42.2,22.3),(43.0,22.2),(43.8,22.4),(44.6,22.3),
    (45.4,22.4),
    (46.2,22.3),(47.0,22.2),(47.8,22.4),(48.6,22.1),(49.4,22.3),(50.2,22.0),(51.0,22.3),(51.8,22.4),(52.6,22.1),(53.4,22.3),
    (54.2,21.9),(55.0,22.2),(55.8,22.4),(56.6,22.0),(57.4,22.3),(58.2,22.1),(59.0,22.3),(59.8,21.8),(60.6,22.2),(61.4,22.0),
    (62.2,22.3),(63.0,21.9),(63.8,22.2),(64.6,21.7),(65.4,22.1),(66.2,21.9),(67.0,22.2),(67.8,21.8),(68.6,22.0),(69.4,21.7),
    (70.2,22.1),(71.0,21.9),(71.8,21.6),(72.6,22.0),(73.4,21.8),(74.2,22.1),(75.0,21.7),(75.8,21.9),(76.6,21.6),(77.4,22.0),
    (78.2,21.8),(79.0,21.5),(79.8,21.9),(80.6,21.7),(81.4,22.0),(82.2,21.6),(83.0,21.8),(83.8,21.5),(84.6,21.9),(85.4,21.7),
    (86.2,21.5),(87.0,21.8),(87.8,21.6),(88.6,21.5),(89.4,21.7),(90.0,21.6),
    (44.8,20.6),(45.6,20.6),(46.4,20.6),(47.2,20.6),(48.0,20.6),(48.8,20.6),(49.6,20.6),(50.4,20.7),(51.2,20.6),(52.0,20.7),
    (52.8,20.7),(53.6,20.7),(54.4,20.7),(55.2,20.8),(56.0,20.7),(56.8,20.8),(57.6,20.7),(58.4,20.8),(59.2,20.9),(60.0,20.8),
    (60.8,20.9),(61.6,20.9),(62.4,20.8),(63.2,20.9),(64.0,20.9),(64.8,21.0),(65.6,20.9),(66.4,21.0),(67.2,21.0),(68.0,21.0),
    (68.8,21.1),(69.6,21.0),(70.4,21.1),(71.2,21.1),(72.0,21.1),(72.8,21.1),(73.6,21.2),(74.4,21.1),(75.2,21.2),(76.0,21.2),
    (76.8,21.2),(77.6,21.2),(78.4,21.3),(79.2,21.2),(80.0,21.3),(80.8,21.3),(81.6,21.3),(82.4,21.3),(83.2,21.3),(84.0,21.4),
    (84.8,21.3),(85.6,21.4),(86.4,21.4),(87.2,21.3),(88.0,21.4),(88.8,21.4),(89.6,21.4),
]
RLA_BLUE = [
    (52.1,23.3),(57.0,25.6),(57.6,24.3),(57.9,26.6),(58.1,25.5),(58.3,24.9),(58.5,25.3),(58.7,25.1),(58.9,24.9),(66.0,24.9),
    (67.4,23.6),(72.5,26.0),(73.2,23.6),(74.5,25.2),(77.0,24.9),(79.0,24.7),(79.5,25.7),(80.6,23.6),(88.7,23.3),
    (68.1,21.8),(69.4,21.7),(70.0,21.8),(70.6,21.6),(72.6,21.7),(73.9,22.4),(75.2,22.2),(76.5,22.0),(77.4,22.1),(78.4,22.2),
    (79.4,21.9),(80.3,22.2),(81.6,22.0),(83.2,21.9),(84.8,22.1),(86.1,21.9),(87.1,21.8),(88.1,21.7),(89.0,21.7),(89.7,21.7),
]
RLA_BAND_DOTS = [0.8, 1.3, 2.9, 4.7]
RLA_BAND_Y = 22.75

LOWER_BAND_SOLID = [
    5.8,6.3,6.8,7.3,7.8,8.3,8.8,9.3,9.8,10.3,10.8,11.3,11.8,12.3,12.8,13.3,13.8,14.3,14.8,15.3,15.8,16.3,16.8,17.3,17.8,
    18.3,18.8,19.3,19.8,20.3,20.8,21.3,21.8,22.3,22.8,23.3,23.8,24.3,24.8,25.3,25.8,26.3,26.8,27.3,27.8,28.3,28.8,29.3,
    29.8,30.3,30.8,31.3,31.8,32.3,32.8,33.3,33.8,34.3,34.8,35.3,35.8,36.3,36.8,37.3,37.8,38.3,38.8,39.3,39.8,40.3,40.8,
    41.3,41.8,42.3,42.8,43.3,43.8,44.3,44.8,45.3,45.8,46.3,46.8,47.3,47.8,48.3,48.8,49.3,49.8,50.3,50.8,51.3,51.8,52.3,
    52.8,53.3,53.8,54.3,54.8,55.3,55.8,56.3,56.8,57.3,57.8,58.3,58.8,59.3,59.8,60.3,60.8,61.3,61.8,62.3,62.8,63.3,63.8,
    64.3,64.8,65.3,65.8,66.3,66.8,67.3,67.8,68.3,68.8,69.3,69.8,70.3,70.8,71.3,71.8,72.3,72.8,73.3,73.8,74.3,74.8,75.3,
    75.8,76.3,76.8,77.3,77.8,78.3,78.8,79.3,79.8,80.3,80.8,81.3,81.8,82.3,82.8,83.3,83.8,84.3,84.8,85.3,85.8,86.3,86.8,
    87.3,87.8,88.3,88.8,89.3,89.8,90.0,
]


def panel(title, red, blue, band_x, band_y, ydom, yticks):
    rows = [{"angle": a, "length": v, "series": SERIES[0]} for a, v in red]
    rows += [{"angle": a, "length": band_y, "series": SERIES[1]} for a in band_x]
    rows += [{"angle": a, "length": v, "series": SERIES[1]} for a, v in blue]
    df = pd.DataFrame(rows)
    xs = alt.Scale(domain=[0, 90], nice=False, zero=False)
    ys = alt.Scale(domain=ydom, nice=False, zero=False)
    xaxis = alt.Axis(values=X_TICKS, title="Angle in degree", labelFlush=False)
    yaxis = alt.Axis(values=yticks, title="Length of Bone", labelFlush=False)
    pts = alt.Chart(df).mark_circle(size=12, opacity=1).encode(
        x=alt.X("angle:Q", scale=xs, axis=xaxis),
        y=alt.Y("length:Q", scale=ys, axis=yaxis),
        color=alt.Color(
            "series:N",
            scale=alt.Scale(domain=SERIES, range=[RED, BLUE]),
            legend=alt.Legend(
                title=None, orient="none", legendX=235, legendY=16, direction="vertical",
                fillColor="#ffffff", strokeColor="#8f8f8f", padding=5, rowPadding=8,
                symbolType="circle", symbolSize=7, symbolOffset=16, labelOffset=22,
                labelFont=FONT, labelFontSize=14.5, labelColor="#262626", labelLimit=400,
            ),
        ),
    )
    xt = alt.Chart(pd.DataFrame({"angle": X_TICKS})).mark_rule(color=AXIS_COLOR, strokeWidth=1).encode(
        x=alt.X("angle:Q", scale=xs, axis=xaxis), y=alt.value(H), y2=alt.value(H - 5)
    )
    yt = alt.Chart(pd.DataFrame({"length": yticks})).mark_rule(color=AXIS_COLOR, strokeWidth=1).encode(
        y=alt.Y("length:Q", scale=ys, axis=yaxis), x=alt.value(0), x2=alt.value(5)
    )
    return alt.layer(pts, xt, yt).properties(width=W, height=H, title=title)


p1 = panel("Left Upper Arm", LUA_RED, LUA_BLUE, LUA_BAND_DOTS + UPPER_BAND_SOLID, LUA_BAND_Y, [15, 35], [15, 20, 25, 30, 35])
p2 = panel("Left Lower Arm", LLA_RED, LLA_BLUE, LLA_BAND_DOTS + LOWER_BAND_SOLID, LLA_BAND_Y, [10, 35], [10, 15, 20, 25, 30, 35])
p3 = panel("Right Upper Arm", RUA_RED, RUA_BLUE, RUA_BAND_DOTS + UPPER_BAND_SOLID, RUA_BAND_Y, [20, 35], [20, 25, 30, 35])
p4 = panel("Right Lower Arm", RLA_RED, RLA_BLUE, RLA_BAND_DOTS + LOWER_BAND_SOLID, RLA_BAND_Y, [5, 35], [5, 10, 15, 20, 25, 30, 35])

row1 = alt.hconcat(p1, p2, spacing=88).resolve_scale(color="independent", x="independent", y="independent").resolve_legend(color="independent")
row2 = alt.hconcat(p3, p4, spacing=88).resolve_scale(color="independent", x="independent", y="independent").resolve_legend(color="independent")

chart = (
    alt.vconcat(row1, row2, spacing=26.5)
    .resolve_scale(color="independent", x="independent", y="independent")
    .resolve_legend(color="independent")
    .properties(padding={"left": 2.5, "top": 3.5, "right": 0, "bottom": 0})
    .configure_view(stroke=None)
    .configure_axis(
        grid=False, ticks=False, tickSize=0, domainColor=AXIS_COLOR, domainWidth=1,
        labelFont=FONT, labelFontSize=16, labelColor=TEXT_COLOR, labelPadding=7,
        titleFont=FONT, titleFontSize=17.5, titleFontWeight="normal", titleColor=TEXT_COLOR, titlePadding=6,
    )
    .configure_axisX(labelPadding=10.5, titlePadding=5.5)
    .configure_title(font=FONT, fontSize=17.5, fontWeight="bold", color="#141414", anchor="middle", offset=-2.5)
    .configure_legend(symbolStrokeWidth=0)
)

chart.save("out.html", embed_options={"renderer": "svg", "actions": False})
